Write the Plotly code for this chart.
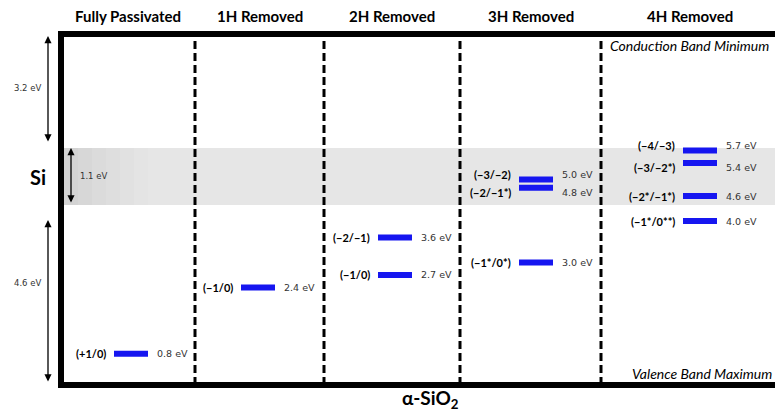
import plotly.graph_objects as go

# ---- data -------------------------------------------------------------
columns = ["Fully Passivated", "1H Removed", "2H Removed", "3H Removed", "4H Removed"]

level_col = [0, 1, 2, 2, 3, 3, 3, 4, 4, 4, 4]
level_label = ["(+1/0)", "(\u22121/0)", "(\u22122/\u22121)", "(\u22121/0)",
               "(\u22123/\u22122)", "(\u22122/\u22121*)", "(\u22121*/0*)",
               "(\u22124/\u22123)", "(\u22123/\u22122*)", "(\u22122*/\u22121*)", "(\u22121*/0**)"]
level_ev = [0.8, 2.4, 3.6, 2.7, 5.0, 4.8, 3.0, 5.7, 5.4, 4.6, 4.0]

gap_labels = ["3.2 eV", "1.1 eV", "4.6 eV"]

# ---- layout constants ------------------------------------------------
W, H = 775, 414
Y0, S = 387.0, 41.5          # pixel row of 0 eV and pixels per eV


def ev(px):
    """Convert a pixel row into energy units of the y axis."""
    return (Y0 - px) / S


col_edges = [61, 195, 324, 460, 601, 779]
col_centers = [(a + b) / 2 for a, b in zip(col_edges[:-1], col_edges[1:])]
bar_centers = [131, 258, 395, 536, 700]
bar_half = 17
frame_top_px, frame_bot_px = 34, 385
band_top_px, band_bot_px = 148, 205


def label_shift(c, v):
    """Spread the captions of levels that sit very close together."""
    near = [w for cc, w in zip(level_col, level_ev) if cc == c and w != v and abs(w - v) < 0.3]
    if not near:
        return 0
    return 5 if v > near[0] else -5


label_font = dict(family="Lato, 'Open Sans', sans-serif", size=11, color="black")
value_font = dict(family="DejaVu Sans, Verdana, sans-serif", size=9.5, color="#333333")
title_family = "Lato, 'Open Sans', sans-serif"

fig = go.Figure()

# energy levels
for c, lab, v in zip(level_col, level_label, level_ev):
    xc = bar_centers[c]
    fig.add_trace(go.Scatter(
        x=[xc - bar_half, xc + bar_half], y=[v, v], mode="lines",
        line=dict(color="#1616f0", width=6), hoverinfo="skip", showlegend=False))

annotations = []
for c, lab, v in zip(level_col, level_label, level_ev):
    xc = bar_centers[c]
    dy = label_shift(c, v)
    annotations.append(dict(x=xc - bar_half - 6, y=v, yshift=dy, text="<b>%s</b>" % lab,
                            xanchor="right", yanchor="middle", showarrow=False,
                            font=label_font))
    annotations.append(dict(x=xc + bar_half + 7, y=v, yshift=dy, text="%.1f eV" % v,
                            xanchor="left", yanchor="middle", showarrow=False,
                            font=value_font))

# column headers
for name, xc in zip(columns, col_centers):
    annotations.append(dict(x=xc, y=ev(16), text="<b>%s</b>" % name, showarrow=False,
                            xanchor="center", yanchor="middle",
                            font=dict(family=title_family, size=15, color="black")))

# band-edge captions
annotations.append(dict(x=608, y=ev(45), text="<i>Conduction Band Minimum</i>",
                        showarrow=False, xanchor="left", yanchor="middle",
                        font=dict(family=title_family, size=14, color="black")))
annotations.append(dict(x=630, y=ev(373), text="<i>Valence Band Maximum</i>",
                        showarrow=False, xanchor="left", yanchor="middle",
                        font=dict(family=title_family, size=14, color="black")))

# side labels
annotations.append(dict(x=38, y=ev(177), text="<b>Si</b>", showarrow=False,
                        xanchor="center", yanchor="middle",
                        font=dict(family=title_family, size=20, color="black")))
annotations.append(dict(x=430, y=ev(399), text="<b>\u03b1-SiO<sub>2</sub></b>",
                        showarrow=False, xanchor="center", yanchor="middle",
                        font=dict(family=title_family, size=19, color="black")))

# double-headed gap arrows
arrows = [(48, 36, 143), (71, 148, 204), (48, 220, 383)]
gap_text_pos = [(27, 88), (93, 176), (27, 283)]
for (ax_x, top, bot), txt, (tx, ty) in zip(arrows, gap_labels, gap_text_pos):
    annotations.append(dict(x=ax_x, y=ev(top), ax=ax_x, ay=ev(bot),
                            xref="x", yref="y", axref="x", ayref="y",
                            text="", showarrow=True, arrowhead=2, arrowside="end+start",
                            arrowsize=1.1, arrowwidth=1.3, arrowcolor="black"))
    annotations.append(dict(x=tx, y=ev(ty), text=txt, showarrow=False,
                            xanchor="center", yanchor="middle",
                            font=dict(family="DejaVu Sans, Verdana, sans-serif",
                                      size=8.5, color="#333333")))

shapes = []
# silicon band (grey strip, darker toward the left edge)
shapes.append(dict(type="rect", xref="x", yref="y", x0=64, x1=W + 10,
                   y0=ev(band_bot_px), y1=ev(band_top_px),
                   fillcolor="#e6e6e6", line=dict(width=0), layer="below"))
for i, shade in enumerate(["#d3d3d3", "#d7d7d7", "#dbdbdb", "#dedede", "#e1e1e1", "#e4e4e4"]):
    shapes.append(dict(type="rect", xref="x", yref="y", x0=64 + i * 14,
                       x1=64 + (i + 1) * 14, y0=ev(band_bot_px), y1=ev(band_top_px),
                       fillcolor=shade, line=dict(width=0), layer="below"))

# dashed column separators
for xe in col_edges[1:-1]:
    shapes.append(dict(type="line", xref="x", yref="y", x0=xe, x1=xe,
                       y0=ev(frame_bot_px), y1=ev(frame_top_px),
                       line=dict(color="black", width=3, dash="8px,4px")))

# heavy frame
frame = dict(color="black", width=6)
shapes.append(dict(type="line", xref="x", yref="y", x0=58, x1=W + 20,
                   y0=ev(frame_top_px), y1=ev(frame_top_px), line=frame))
shapes.append(dict(type="line", xref="x", yref="y", x0=58, x1=W + 20,
                   y0=ev(frame_bot_px), y1=ev(frame_bot_px), line=frame))
shapes.append(dict(type="line", xref="x", yref="y", x0=61, x1=61,
                   y0=ev(frame_bot_px + 3), y1=ev(frame_top_px - 3), line=frame))

fig.update_layout(
    width=W, height=H,
    margin=dict(l=0, r=0, t=0, b=0),
    paper_bgcolor="white", plot_bgcolor="white",
    xaxis=dict(range=[0, W], visible=False, fixedrange=True),
    yaxis=dict(range=[ev(H), ev(0)], visible=False, fixedrange=True),
    shapes=shapes, annotations=annotations,
    hovermode=False,
)

fig.write_html("out.html", config={"displayModeBar": False})
